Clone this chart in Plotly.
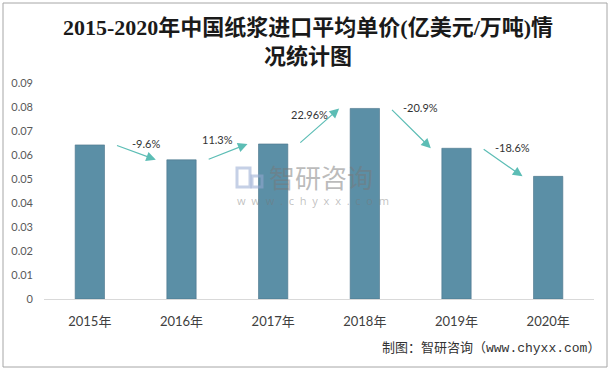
import plotly.graph_objects as go

years = ["2015年", "2016年", "2017年", "2018年", "2019年", "2020年"]
prices = [0.0642, 0.0580, 0.0646, 0.0794, 0.0628, 0.0511]
changes = ["-9.6%", "11.3%", "22.96%", "-20.9%", "-18.6%"]
change_sign = [-1, 1, 1, -1, -1]
ytick_vals = [0, 0.01, 0.02, 0.03, 0.04, 0.05, 0.06, 0.07, 0.08, 0.09]
ytick_text = ["0", "0.01", "0.02", "0.03", "0.04", "0.05", "0.06", "0.07", "0.08", "0.09"]

title_text = "2015-2020年中国纸浆进口平均单价(亿美元/万吨)情<br>况统计图"
source_text = "制图：智研咨询（www.chyxx.com）"

xs = list(range(len(years)))

fig = go.Figure()
fig.add_trace(go.Bar(
    x=xs, y=prices, width=0.32,
    marker=dict(color="#5B8FA6", line=dict(color="#4A7489", width=0.6)),
    hoverinfo="skip",
))

annotations = []
off = 0.28
for i, (txt, s) in enumerate(zip(changes, change_sign)):
    x0, y0 = xs[i] + off, prices[i]
    x1, y1 = xs[i + 1] - off, prices[i + 1]
    annotations.append(dict(
        x=x1, y=y1, ax=x0, ay=y0, xref="x", yref="y", axref="x", ayref="y",
        showarrow=True, arrowhead=2, arrowsize=1.6, arrowwidth=1.2,
        arrowcolor="#5CBDB5", text="",
    ))
    mx = (x0 + x1) / 2
    if s < 0:
        ly, xs_, ys_ = max(y0, y1), 10, 1
    else:
        ly, xs_, ys_ = (y0 + y1) / 2, -10, 12
    annotations.append(dict(
        x=mx, y=ly, xref="x", yref="y", text=txt, showarrow=False,
        xshift=xs_, yshift=ys_,
        font=dict(family="Lato, Noto Sans CJK SC", size=11, color="#333333"),
    ))

# title
annotations.append(dict(
    x=(308 - 44) / 550, y=(299 - 42) / 216, xref="paper", yref="paper", text=title_text,
    showarrow=False, xanchor="center", yanchor="middle",
    font=dict(family="Liberation Serif, Noto Sans CJK SC", size=22, color="#1a1a1a", weight="bold"),
))
# source
annotations.append(dict(
    x=(602 - 44) / 550, y=(299 - 348) / 216, xref="paper", yref="paper", text=source_text,
    showarrow=False, xanchor="right", yanchor="middle",
    font=dict(family="Liberation Mono, Noto Sans CJK SC", size=13, color="#333333"),
))
# watermark
annotations.append(dict(
    x=(267 - 44) / 550, y=(299 - 176) / 216, xref="paper", yref="paper", text="智研咨询",
    showarrow=False, xanchor="left", yanchor="middle",
    font=dict(family="Noto Sans CJK SC", size=26, color="rgba(120,120,120,0.5)"),
))
annotations.append(dict(
    x=(235 - 44) / 550, y=(299 - 200) / 216, xref="paper", yref="paper",
    text="w  w  w  .  c  h  y  x  x  .  c  o  m",
    showarrow=False, xanchor="left", yanchor="middle",
    font=dict(family="Noto Sans", size=11, color="rgba(120,120,120,0.45)"),
))

shapes = [
    dict(type="rect", xref="paper", yref="paper",
         x0=(3 - 44) / 550, x1=(607 - 44) / 550, y0=(299 - 367) / 216, y1=(299 - 3) / 216,
         line=dict(color="#A6A6A6", width=1), fillcolor="rgba(0,0,0,0)", layer="below"),
    # watermark logo
    dict(type="rect", xref="paper", yref="paper",
         x0=(237 - 44) / 550, x1=(250 - 44) / 550, y0=(299 - 187) / 216, y1=(299 - 168) / 216,
         line=dict(color="rgba(150,170,210,0.55)", width=3), fillcolor="rgba(0,0,0,0)"),
    dict(type="rect", xref="paper", yref="paper",
         x0=(252 - 44) / 550, x1=(262 - 44) / 550, y0=(299 - 187) / 216, y1=(299 - 176) / 216,
         line=dict(color="rgba(150,170,210,0.55)", width=3), fillcolor="rgba(0,0,0,0)"),
]

fig.update_layout(
    width=611, height=370,
    margin=dict(l=44, r=17, t=83, b=71),
    paper_bgcolor="white", plot_bgcolor="white",
    showlegend=False,
    annotations=annotations, shapes=shapes,
    xaxis=dict(
        tickvals=xs, ticktext=years, range=[-0.5, 5.5],
        showgrid=False, zeroline=False, showline=True, linecolor="#D9D9D9", linewidth=1,
        ticks="", ticklabelstandoff=10,
        tickfont=dict(family="Lato, Noto Sans CJK SC", size=13, color="#404040"),
    ),
    yaxis=dict(
        tickvals=ytick_vals, ticktext=ytick_text, range=[0, 0.09],
        showgrid=False, zeroline=False, showline=False, ticks="",
        ticklabelstandoff=10,
        tickfont=dict(family="Lato", size=11, color="#595959"),
    ),
)

fig.write_html("out.html", config={"displayModeBar": False},
               post_script="document.body.style.margin='0px';document.body.style.overflow='hidden';")
